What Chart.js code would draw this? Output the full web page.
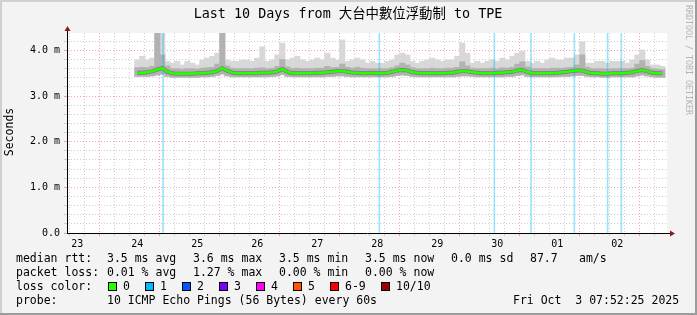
<!DOCTYPE html>
<html>
<head>
<meta charset="utf-8">
<script src="https://cdn.jsdelivr.net/npm/chart.js@4.4.1/dist/chart.umd.min.js"></script>
<style>
  html, body { margin: 0; padding: 0; background: #f3f3f3; }
  canvas { display: block; }
</style>
</head>
<body>
<canvas id="c" width="697" height="315"></canvas>
<script>
// time axis is in hours counted from Sep 23 00:00 (local)
const viewStart = 7.87, viewEnd = 247.87;
const dayLabels = ['23', '24', '25', '26', '27', '28', '29', '30', '01', '02'];

// one sample every 2 hours, first one at Sep 24 12:00
const sampleStart = 36, sampleStep = 2;

// smoke: highest ping, upper dense band, lowest ping (ms)
const smokeMax = [
  3.79, 3.87, 3.79, 3.83, 4.45, 4.45, 3.76, 3.72, 3.76, 3.68,
  3.76, 3.72, 3.68, 3.79, 3.83, 3.87, 3.94, 4.45, 3.79, 3.76,
  3.76, 3.79, 3.79, 3.76, 3.83, 4.08, 3.76, 3.79, 3.90, 4.16,
  3.79, 3.83, 3.87, 3.79, 3.76, 3.79, 3.83, 3.79, 3.94, 3.83,
  3.79, 4.23, 3.76, 3.79, 3.83, 3.79, 3.72, 3.76, 3.72, 3.72,
  3.76, 3.79, 3.90, 3.94, 3.90, 3.76, 3.72, 3.76, 3.79, 3.83,
  3.79, 3.76, 3.79, 3.79, 3.87, 4.16, 3.94, 3.72, 3.76, 3.72,
  3.76, 3.79, 3.76, 3.83, 3.79, 3.87, 3.94, 3.98, 3.76, 3.72,
  3.76, 3.72, 3.79, 3.83, 3.79, 3.79, 3.83, 3.83, 3.90, 4.19,
  3.72, 3.72, 3.76, 3.76, 3.72, 3.76, 3.76, 3.76, 3.72, 3.79,
  3.90, 4.01, 3.79, 3.68, 3.68, 3.65
];
const smokeMid = [
  3.62, 3.63, 3.62, 3.65, 4.45, 3.90, 3.66, 3.60, 3.60, 3.59,
  3.60, 3.60, 3.59, 3.61, 3.62, 3.63, 3.70, 4.45, 3.66, 3.61,
  3.60, 3.60, 3.60, 3.60, 3.61, 3.62, 3.60, 3.61, 3.65, 3.80,
  3.64, 3.60, 3.61, 3.60, 3.60, 3.60, 3.61, 3.61, 3.65, 3.62,
  3.63, 3.70, 3.63, 3.61, 3.63, 3.61, 3.60, 3.60, 3.60, 3.60,
  3.60, 3.62, 3.66, 3.72, 3.68, 3.62, 3.60, 3.60, 3.60, 3.61,
  3.60, 3.60, 3.61, 3.61, 3.63, 3.75, 3.66, 3.61, 3.60, 3.60,
  3.60, 3.61, 3.60, 3.62, 3.61, 3.63, 3.70, 3.75, 3.64, 3.60,
  3.60, 3.60, 3.60, 3.61, 3.61, 3.61, 3.62, 3.63, 3.68, 3.90,
  3.63, 3.60, 3.60, 3.60, 3.59, 3.60, 3.60, 3.60, 3.60, 3.61,
  3.70, 3.78, 3.65, 3.60, 3.59, 3.58
];
const smokeMin = [
  3.43, 3.43, 3.43, 3.44, 3.46, 3.48, 3.43, 3.41, 3.41, 3.41,
  3.41, 3.41, 3.41, 3.42, 3.42, 3.43, 3.45, 3.48, 3.44, 3.42,
  3.42, 3.42, 3.42, 3.42, 3.42, 3.42, 3.42, 3.43, 3.44, 3.47,
  3.43, 3.42, 3.42, 3.42, 3.42, 3.42, 3.42, 3.42, 3.43, 3.43,
  3.44, 3.44, 3.43, 3.42, 3.42, 3.42, 3.42, 3.42, 3.42, 3.42,
  3.42, 3.43, 3.45, 3.46, 3.45, 3.43, 3.42, 3.42, 3.42, 3.42,
  3.42, 3.42, 3.42, 3.42, 3.43, 3.44, 3.44, 3.43, 3.42, 3.42,
  3.42, 3.42, 3.42, 3.42, 3.43, 3.43, 3.45, 3.46, 3.43, 3.42,
  3.42, 3.42, 3.42, 3.42, 3.42, 3.43, 3.43, 3.44, 3.45, 3.45,
  3.43, 3.42, 3.42, 3.41, 3.41, 3.42, 3.42, 3.42, 3.42, 3.42,
  3.44, 3.46, 3.44, 3.42, 3.41, 3.41
];
const medianRtt = [
  3.51, 3.51, 3.52, 3.54, 3.58, 3.61, 3.53, 3.50, 3.49, 3.49,
  3.49, 3.49, 3.50, 3.50, 3.51, 3.52, 3.55, 3.61, 3.55, 3.51,
  3.50, 3.50, 3.50, 3.50, 3.50, 3.51, 3.51, 3.52, 3.54, 3.59,
  3.53, 3.50, 3.50, 3.50, 3.50, 3.50, 3.51, 3.51, 3.52, 3.53,
  3.54, 3.55, 3.53, 3.51, 3.51, 3.50, 3.50, 3.51, 3.50, 3.50,
  3.51, 3.53, 3.56, 3.57, 3.56, 3.52, 3.51, 3.50, 3.50, 3.50,
  3.50, 3.50, 3.51, 3.51, 3.53, 3.55, 3.54, 3.52, 3.51, 3.50,
  3.50, 3.50, 3.51, 3.51, 3.52, 3.53, 3.56, 3.57, 3.53, 3.50,
  3.50, 3.50, 3.50, 3.50, 3.51, 3.52, 3.53, 3.55, 3.56, 3.56,
  3.52, 3.50, 3.50, 3.49, 3.49, 3.50, 3.50, 3.50, 3.51, 3.52,
  3.55, 3.57, 3.54, 3.51, 3.50, 3.50
];

// samples with 1/10 packet loss (hours)
const lossHours = [46.3, 132.8, 178.8, 193.5, 210.8, 224.1, 229.6];

// legend
const rttStats = ['3.5 ms avg', '3.6 ms max', '3.5 ms min', '3.5 ms now', '0.0 ms sd', '87.7', 'am/s'];
const lossStats = ['0.01 % avg', '1.27 % max', '0.00 % min', '0.00 % now'];
const lossLabels = ['0', '1', '2', '3', '4', '5', '6-9', '10/10'];
const lossColors = ['#26ff00', '#00b8ff', '#0059ff', '#7e00ff', '#ff00ff', '#ff5500', '#ff0000', '#a10000'];
const probeText = '10 ICMP Echo Pings (56 Bytes) every 60s';
const stampText = 'Fri Oct  3 07:52:25 2025';
const titleText = 'Last 10 Days from 大台中數位浮動制 to TPE';

const MONO = '"DejaVu Sans Mono", "Noto Sans CJK TC", monospace';
const yTop = 4.38;

const at = i => sampleStart + i * sampleStep;
const smokeOuter = smokeMax.map((v, i) => ({ x: at(i), y: [smokeMin[i], v] }));
const smokeInner = smokeMid.map((v, i) => ({ x: at(i), y: [smokeMin[i], v] }));
const median = medianRtt.map((v, i) => ({ x: at(i), y: v }));
const lossBars = lossHours.map(h => ({ x: h, y: [0, yTop] }));

const xTicks = [];
for (let h = 12; h < viewEnd; h += 6) xTicks.push(h);
const yTicks = [];
for (let i = 0; i <= 21; i++) yTicks.push(Math.round(i * 2) / 10);

const isMajorY = v => Math.abs(v - Math.round(v)) < 1e-6;
const isMajorX = h => h % 24 === 0;
const RED = 'rgba(235, 80, 80, 0.5)', GREY = '#cfcfcf';
const gridX = c => (c.tick && isMajorX(c.tick.value)) ? RED : GREY;
const gridY = c => (c.tick && isMajorY(c.tick.value)) ? RED : GREY;

const decor = {
  id: 'decor',
  beforeDraw(chart) {
    const { ctx, chartArea: a } = chart;
    ctx.save();
    ctx.fillStyle = '#f3f3f3';
    ctx.fillRect(0, 0, chart.width, chart.height);
    ctx.fillStyle = '#ffffff';
    ctx.fillRect(a.left, a.top, a.right - a.left, a.bottom - a.top);
    ctx.restore();
  },
  afterDraw(chart) {
    const { ctx, chartArea: a } = chart;
    ctx.save();
    // frame
    ctx.fillStyle = '#d0d0d0';
    ctx.fillRect(0, 0, chart.width, 2);
    ctx.fillRect(0, 0, 2, chart.height);
    ctx.fillStyle = '#9c9c9c';
    ctx.fillRect(chart.width - 2, 0, 2, chart.height);
    ctx.fillRect(0, chart.height - 2, chart.width, 2);

    // axis extensions and arrows
    ctx.strokeStyle = '#000';
    ctx.lineWidth = 1;
    ctx.beginPath();
    ctx.moveTo(a.left + 0.5, a.top);
    ctx.lineTo(a.left + 0.5, a.top - 4);
    ctx.moveTo(a.right, a.bottom + 0.5);
    ctx.lineTo(a.right + 4, a.bottom + 0.5);
    ctx.stroke();
    ctx.fillStyle = '#8b1a1a';
    ctx.beginPath();
    ctx.moveTo(a.left + 0.5, a.top - 7);
    ctx.lineTo(a.left - 2.5, a.top - 2);
    ctx.lineTo(a.left + 3.5, a.top - 2);
    ctx.closePath();
    ctx.fill();
    ctx.beginPath();
    ctx.moveTo(a.right + 8, a.bottom + 0.5);
    ctx.lineTo(a.right + 3, a.bottom - 2.5);
    ctx.lineTo(a.right + 3, a.bottom + 3.5);
    ctx.closePath();
    ctx.fill();

    // title
    ctx.fillStyle = '#000';
    ctx.textBaseline = 'middle';
    ctx.textAlign = 'center';
    ctx.font = '13.4px ' + MONO;
    ctx.fillText(titleText, 348, 15);

    // vertical labels
    ctx.save();
    ctx.translate(10, 132);
    ctx.rotate(-Math.PI / 2);
    ctx.font = '11.5px ' + MONO;
    ctx.fillText('Seconds', 0, 0);
    ctx.restore();
    ctx.save();
    ctx.translate(688, 60);
    ctx.rotate(Math.PI / 2);
    ctx.fillStyle = '#b4b4b4';
    ctx.font = '8.3px ' + MONO;
    ctx.fillText('RRDTOOL / TOBI OETIKER', 0, 0);
    ctx.restore();

    // legend rows
    ctx.textAlign = 'left';
    ctx.font = '11.5px ' + MONO;
    ctx.fillStyle = '#000';
    const rows = [259.5, 273, 287, 301];
    const statX = [107, 193, 279, 365, 451, 530, 579];
    ctx.fillText('median rtt:', 16, rows[0]);
    rttStats.forEach((t, i) => ctx.fillText(t, statX[i], rows[0]));
    ctx.fillText('packet loss:', 16, rows[1]);
    lossStats.forEach((t, i) => ctx.fillText(t, statX[i], rows[1]));
    ctx.fillText('loss color:', 16, rows[2]);
    const boxX = [108, 145, 182, 219, 256, 293, 330, 381];
    lossLabels.forEach((t, i) => {
      ctx.fillStyle = lossColors[i];
      ctx.fillRect(boxX[i] + 0.5, rows[2] - 4.5, 8, 8);
      ctx.strokeStyle = '#000';
      ctx.strokeRect(boxX[i] + 0.5, rows[2] - 4.5, 8, 8);
      ctx.fillStyle = '#000';
      ctx.fillText(t, boxX[i] + 15, rows[2]);
    });
    ctx.fillText('probe:', 16, rows[3]);
    ctx.fillText(probeText, 107, rows[3]);
    ctx.fillText(stampText, 513, rows[3]);
    ctx.restore();
  }
};

new Chart(document.getElementById('c'), {
  type: 'bar',
  data: {
    datasets: [
      {
        type: 'line', data: median, order: 0,
        borderColor: '#26ff00', borderWidth: 2.6, pointRadius: 0, tension: 0
      },
      {
        type: 'line', data: median, order: 1,
        borderColor: '#7c7c7c', borderWidth: 4, pointRadius: 0, tension: 0
      },
      {
        data: lossBars, order: 2, grouped: false,
        backgroundColor: 'rgba(0, 184, 255, 0.4)', barThickness: 1, borderWidth: 0
      },
      {
        data: smokeInner, order: 3, grouped: false,
        backgroundColor: '#b2b2b2', barThickness: 5.4, borderWidth: 0
      },
      {
        data: smokeOuter, order: 4, grouped: false,
        backgroundColor: '#d8d8d8', barThickness: 5.4, borderWidth: 0
      }
    ]
  },
  options: {
    responsive: false,
    animation: false,
    events: [],
    layout: { padding: { left: 0, right: 30, top: 33, bottom: 0 } },
    plugins: { legend: { display: false }, tooltip: { enabled: false }, title: { display: false } },
    scales: {
      x: {
        type: 'linear',
        min: viewStart,
        max: viewEnd,
        offset: false,
        afterFit: s => { s.height = 82; },
        afterBuildTicks: s => { s.ticks = xTicks.map(v => ({ value: v })); },
        grid: { color: gridX, tickColor: gridX, tickLength: 3 },
        border: { color: '#000', width: 1, dash: [1, 2] },
        ticks: {
          autoSkip: false,
          maxRotation: 0,
          padding: 2,
          color: '#000',
          font: { family: MONO, size: 10 },
          callback: v => ((v - 12) % 24 === 0) ? dayLabels[(v - 12) / 24] : ''
        }
      },
      y: {
        type: 'linear',
        min: 0,
        max: yTop,
        afterFit: s => { s.width = 67; },
        afterBuildTicks: s => { s.ticks = yTicks.map(v => ({ value: v })); },
        grid: { color: gridY, tickColor: gridY, tickLength: 3 },
        border: { color: '#000', width: 1, dash: [1, 2] },
        ticks: {
          autoSkip: false,
          padding: 4,
          color: '#000',
          font: { family: MONO, size: 10 },
          callback: v => isMajorY(v) ? (v === 0 ? '0.0' : v.toFixed(1) + ' m') : ''
        }
      }
    }
  },
  plugins: [decor]
});
</script>
</body>
</html>
